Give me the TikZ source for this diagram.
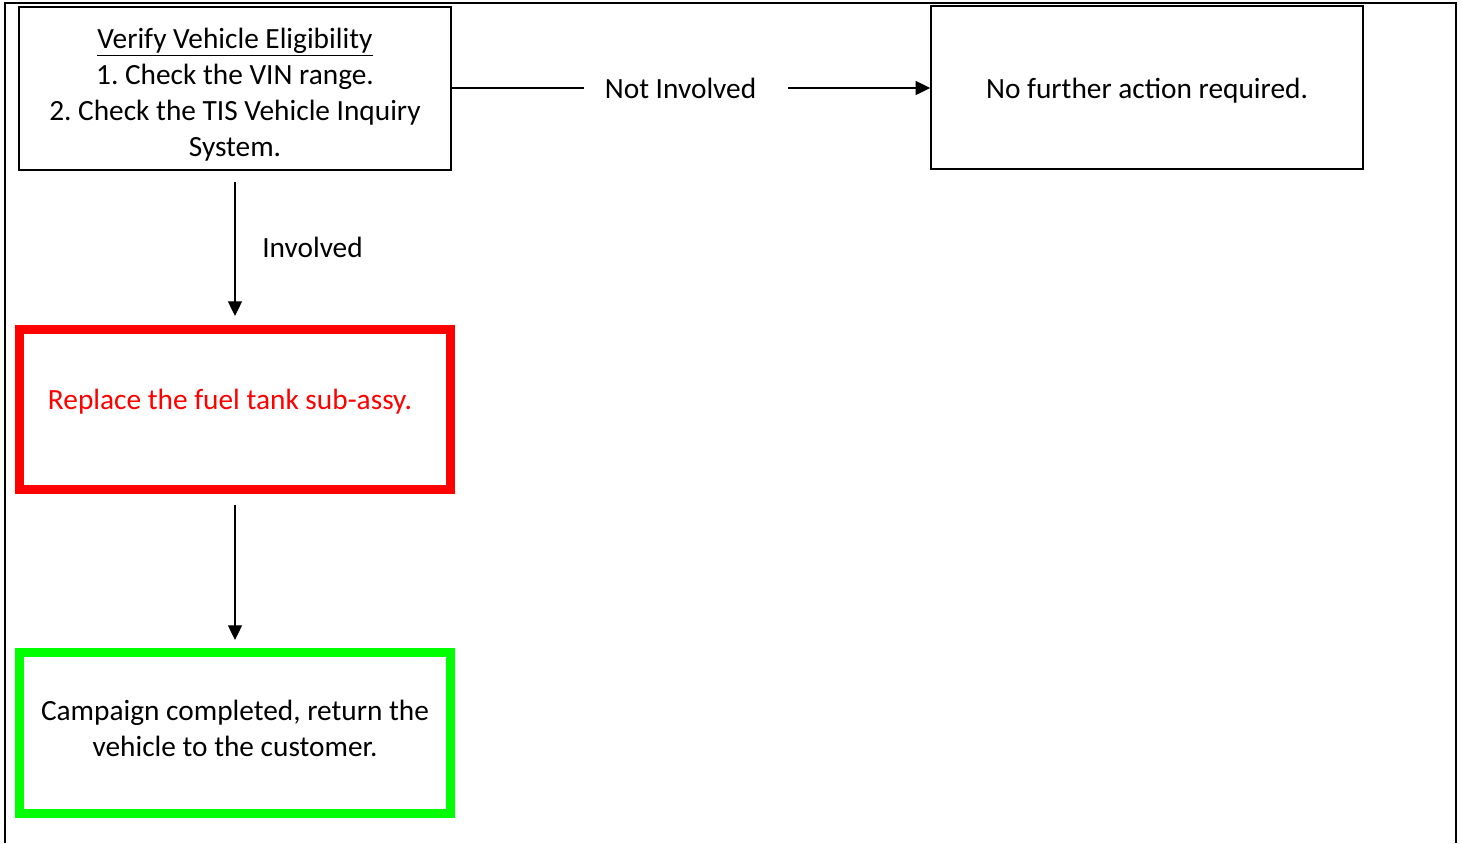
\documentclass[tikz,border=0pt]{standalone}
\usepackage{fontspec}
\setmainfont{Carlito}
\usetikzlibrary{arrows.meta}
\frenchspacing
\tikzset{
  every node/.style={font=\fontsize{22}{27}\selectfont, align=center},
  plainbox/.style={draw=black, line width=1.1pt, minimum width=324pt, minimum height=122.25pt, inner sep=0pt},
  redbox/.style={draw=red, line width=6.75pt, minimum width=323.25pt, minimum height=120pt, inner sep=0pt, text=red},
  greenbox/.style={draw=green, line width=6.75pt, minimum width=323.25pt, minimum height=120.75pt, inner sep=0pt},
  conn/.style={draw=black, line width=0.9pt, -{Triangle[length=11pt,width=10.5pt]}},
  lbl/.style={inner sep=0pt},
  frame/.style={line width=1.6pt}
}
\begin{document}
\begin{tikzpicture}[x=0.75pt,y=-0.75pt]
\useasboundingbox (0,0) rectangle (1462,843);
% outer frame
\draw[frame] (5,843) -- (5,3) -- (1456,3) -- (1456,843);
% nodes
\node[plainbox] (b1) at (235,88.5) {\raisebox{-5pt}[\height][\depth]{\begin{tabular}{@{}c@{}}\underline{Verify Vehicle Eligibility}\\1. Check the VIN range.\\2. Check the TIS Vehicle Inquiry\\System.\end{tabular}}};
\node[plainbox] (b2) at (1147,87.5) {\raisebox{-2.25pt}[\height][\depth]{No further action required.}};
\node[redbox] (r) at (235,409.5) {\hspace*{-7.5pt}\raisebox{0pt}[0pt][0pt]{Replace the fuel tank sub-assy.}};
\node[greenbox] (g) at (235,733) {\raisebox{1pt}[\height][\depth]{\begin{tabular}{@{}c@{}}Campaign completed, return the\\vehicle to the customer.\end{tabular}}};
% connectors
\draw[conn] (b1.east |- 0,88) -- node[pos=0.4896, fill=white, inner ysep=2pt, inner xsep=0pt] (ni) {\hspace*{15.75pt}Not Involved\hspace*{24pt}} (b2.west |- 0,88);
\draw[conn, shorten <=11pt*0.75, shorten >=9pt*0.75] (b1.south) -- node[midway, right, lbl, xshift=20pt] (inv) {Involved} (r.north);
\draw[conn, shorten <=11pt*0.75, shorten >=8pt*0.75] (r.south) -- (g.north);
\end{tikzpicture}
\end{document}
